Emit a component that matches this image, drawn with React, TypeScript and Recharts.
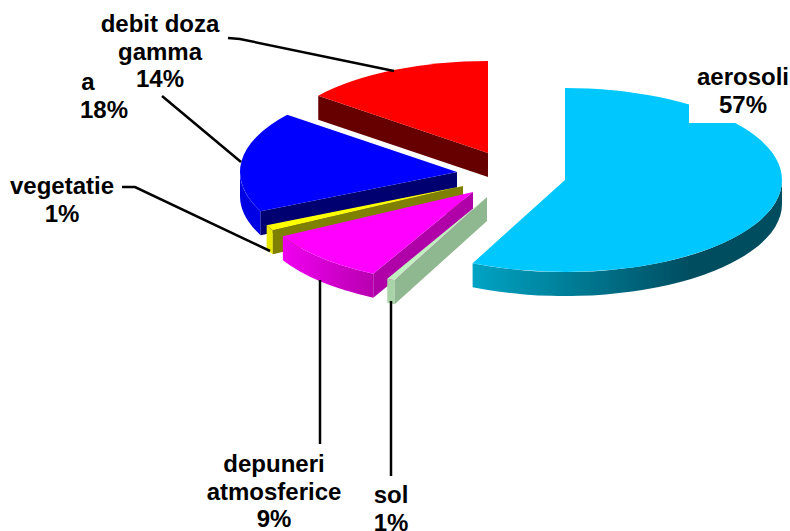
import { Pie, PieChart } from "recharts"

// listed back to front: the slices overlap, and later ones are painted on top
const categories = ["debit doza gamma", "a", "vegetatie", "depuneri atmosferice", "sol", "aerosoli"]
// slice sizes as drawn; the labels show them rounded
const shares = [14.3, 17.7, 1, 9.4, 0.6, 57]

// line breaks of each label
const labelLines = [["debit doza", "gamma"], ["a"], ["vegetatie"], ["depuneri", "atmosferice"], ["sol"], ["aerosoli"]]
const nameX = [160, 88, 62, 274, 391, 743]
const percentX = [160, 104, 62, 274, 391, 743]
const labelBaseline = [32, 90, 194, 472, 503, 85]

const leaders = [
  "228,38 240,39 394,71",
  "162,96 241,162",
  "122,187 135,187 270,251",
  "320,280 320,444",
  "391,301 391,476",
  "",
]

const topColors = ["#ff0000", "#0000ff", "#ffff00", "#ff00ff", "#c0f0c0", "#00c8ff"]
const edgeColors = ["#660000", "#000070", "#808000", "#b000a8", "#90b890", "#004d60"]
const rimFrom = ["#660000", "#0000e4", "#e8e800", "#f000f0", "#a8d4a8", "#00a4c4"]
const rimTo = ["#660000", "#0000e4", "#e8e800", "#b800b0", "#a8d4a8", "#004d60"]

// explosion of each slice from the pie centre, px
const offsetX = [-2, -33, -27, -17, -3, 75]
const offsetY = [-17, 2, 16, 22, 27, 10]

const WIDTH = 790
const HEIGHT = 531
const TILT = 0.424
const DEPTH = 24
const FONT_SIZE = 24
const LINE_HEIGHT = 27.5

const table = categories.map((name, i) => ({ name, value: shares[i] }))

function Slice3D(props: any) {
  const { cx, cy, outerRadius, startAngle, endAngle, payload, name } = props
  const i = categories.indexOf(payload?.name ?? name)
  const x0 = cx + offsetX[i]
  const y0 = cy + offsetY[i]
  const rx = outerRadius
  const ry = outerRadius * TILT
  const px = (deg: number) => x0 + rx * Math.cos((deg * Math.PI) / 180)
  const py = (deg: number) => y0 - ry * Math.sin((deg * Math.PI) / 180)

  // the pie runs counter-clockwise from 90 to 450; a1 -> a2 is the same slice walked clockwise
  const a1 = Math.max(startAngle, endAngle) - 360
  const a2 = Math.min(startAngle, endAngle) - 360

  const large = a1 - a2 > 180 ? 1 : 0
  const top = `M${x0},${y0} L${px(a1)},${py(a1)} A${rx},${ry} 0 ${large} 1 ${px(a2)},${py(a2)} Z`

  // the outer wall is seen only on the front half of the ellipse
  const rimStart = Math.min(a1, 0)
  const rimEnd = Math.max(a2, -180)
  const hasRim = rimStart > rimEnd
  const rim = hasRim
    ? `M${px(rimStart)},${py(rimStart)} A${rx},${ry} 0 0 1 ${px(rimEnd)},${py(rimEnd)} L${px(rimEnd)},${py(rimEnd) + DEPTH} A${rx},${ry} 0 0 0 ${px(rimStart)},${py(rimStart) + DEPTH} Z`
    : ""

  // the radial wall on the first edge faces the viewer unless the slice starts at the top
  const showEdge = a1 < 0
  const edge = `M${x0},${y0} L${px(a1)},${py(a1)} l0,${DEPTH} L${x0},${y0 + DEPTH} Z`

  const gradId = `rim-${i}`
  return (
    <g>
      <defs>
        <linearGradient
          id={gradId}
          gradientUnits="userSpaceOnUse"
          x1={Math.min(px(rimStart), px(rimEnd))}
          x2={a1 > 0 ? x0 + 125 : Math.max(px(rimStart), px(rimEnd))}
          y1={0}
          y2={0}
        >
          <stop offset="0%" stopColor={rimFrom[i]} />
          <stop offset="100%" stopColor={rimTo[i]} />
        </linearGradient>
      </defs>
      {hasRim && <path d={rim} fill={`url(#${gradId})`} />}
      {showEdge && <path d={edge} fill={edgeColors[i]} />}
      <path d={top} fill={topColors[i]} />
    </g>
  )
}

function SliceLabel(props: any) {
  const i = props.index
  const names = labelLines[i]
  return (
    <g>
      {leaders[i] && <polyline points={leaders[i]} fill="none" stroke="#000" strokeWidth={2.5} />}
      {/* the aerosoli label sits on a white box that cuts the slice */}
      {names[0] === "aerosoli" && <rect x={689} y={60} width={101} height={63} fill="#fff" />}
      <text
        textAnchor="middle"
        fontFamily="'Liberation Sans', Arial, sans-serif"
        fontWeight="bold"
        fontSize={FONT_SIZE}
        fill="#000"
      >
        {names.map((line, n) => (
          <tspan key={n} x={nameX[i]} y={labelBaseline[i] + n * LINE_HEIGHT}>
            {line}
          </tspan>
        ))}
        <tspan x={percentX[i]} y={labelBaseline[i] + names.length * LINE_HEIGHT}>
          {`${Math.round(shares[i])}%`}
        </tspan>
      </text>
    </g>
  )
}

export default function App() {
  return (
    <div style={{ position: "absolute", left: 0, top: 0, width: WIDTH, height: HEIGHT, background: "#fff" }}>
      <PieChart width={WIDTH} height={HEIGHT} margin={{ top: 0, right: 0, bottom: 0, left: 0 }}>
        <Pie
          data={table}
          dataKey="value"
          nameKey="name"
          cx={490}
          cy={170}
          innerRadius={0}
          outerRadius={217}
          startAngle={90}
          endAngle={450}
          paddingAngle={0}
          stroke="none"
          shape={Slice3D}
          label={SliceLabel}
          labelLine={false}
          isAnimationActive={false}
        />
      </PieChart>
    </div>
  )
}
